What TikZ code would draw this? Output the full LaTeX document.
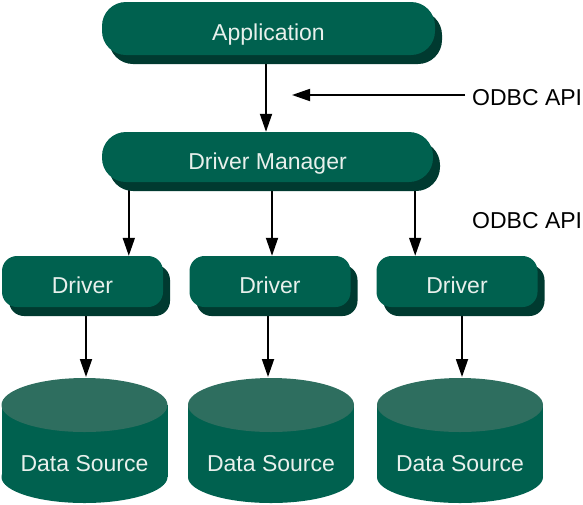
\documentclass[tikz,border=0pt]{standalone}
\usepackage{fontspec}
\setmainfont{Liberation Sans}
\usetikzlibrary{shadows,arrows.meta,backgrounds}
\definecolor{boxc}{HTML}{00614F}
\definecolor{shadc}{HTML}{003A30}
\definecolor{topc}{HTML}{2E6E5F}
\definecolor{txtc}{HTML}{E8F0EC}
\begin{document}
\begin{tikzpicture}[x=1pt,y=-1pt,
  tfont/.style={font=\fontsize{23}{27}\selectfont, text height=24pt, text depth=0pt, inner sep=0pt},
  box/.style={rectangle, fill=boxc, text=txtc, tfont,
    drop shadow={shadow xshift=7pt, shadow yshift=-9pt, fill=shadc, opacity=1}},
  bigbox/.style={box, rounded corners=24pt, minimum height=51pt},
  drvbox/.style={box, rounded corners=15pt, minimum width=161pt, minimum height=51pt},
  dstext/.style={text=txtc, tfont},
  lbl/.style={text=black, tfont, anchor=base west},
  arr/.style={line width=1.8pt, -{Triangle[width=12pt,length=18pt]}},
  dbase/.pic={
    \fill[boxc] (-83,0) rectangle (83,72);
    \fill[boxc] (0,72) ellipse [x radius=83, y radius=26];
    \fill[topc] (0,0) ellipse [x radius=83, y radius=27];
  }]
\useasboundingbox (0,0) rectangle (583,504);

% boxes
\node[bigbox, minimum width=333pt, minimum height=53pt] (app) at (268.5,28.5) {Application};
\node[bigbox, minimum width=331pt, minimum height=50pt] (dm) at (267.5,157) {Driver Manager};
\node[drvbox] (d1) at (82.5,281.5) {Driver};
\node[drvbox] (d2) at (270,281.5) {Driver};
\node[drvbox] (d3) at (457,281.5) {Driver};

% data sources
\pic at (84.5,405) {dbase};
\pic at (271,405) {dbase};
\pic at (460,405) {dbase};
\node[dstext] (ds1) at (84.5,459.5) {Data Source};
\node[dstext] (ds2) at (271,459.5) {Data Source};
\node[dstext] (ds3) at (460,459.5) {Data Source};
\coordinate (ds1top) at (86,377);
\coordinate (ds2top) at (268,377);
\coordinate (ds3top) at (462,377);

% labels
\node[lbl] (api1) at (472,105.5) {ODBC API};
\node[lbl] (api2) at (472,228.5) {ODBC API};
\coordinate (apitip) at (292,95);
\coordinate (apist) at ([xshift=-7pt]api1.west);

% connectors
\coordinate (m1) at ([xshift=27pt]dm.south west);
\coordinate (m2) at ([xshift=4.5pt]dm.south);
\coordinate (m3) at ([xshift=-18pt]dm.south east);
\begin{scope}[on background layer]
  \draw[arr] ([xshift=-2.5pt]app.south) -- ([xshift=-1.5pt]dm.north);
  \draw[arr] (m1) -- (m1 |- d1.north);
  \draw[arr] (m2) -- (m2 |- d2.north);
  \draw[arr] (m3) -- (m3 |- d3.north);
  \draw[arr] (ds1top |- d1.south) -- (ds1top);
  \draw[arr] (ds2top |- d2.south) -- (ds2top);
  \draw[arr] (ds3top |- d3.south) -- (ds3top);
\end{scope}
\draw[arr] (apist |- apitip) -- (apitip);
\end{tikzpicture}
\end{document}
